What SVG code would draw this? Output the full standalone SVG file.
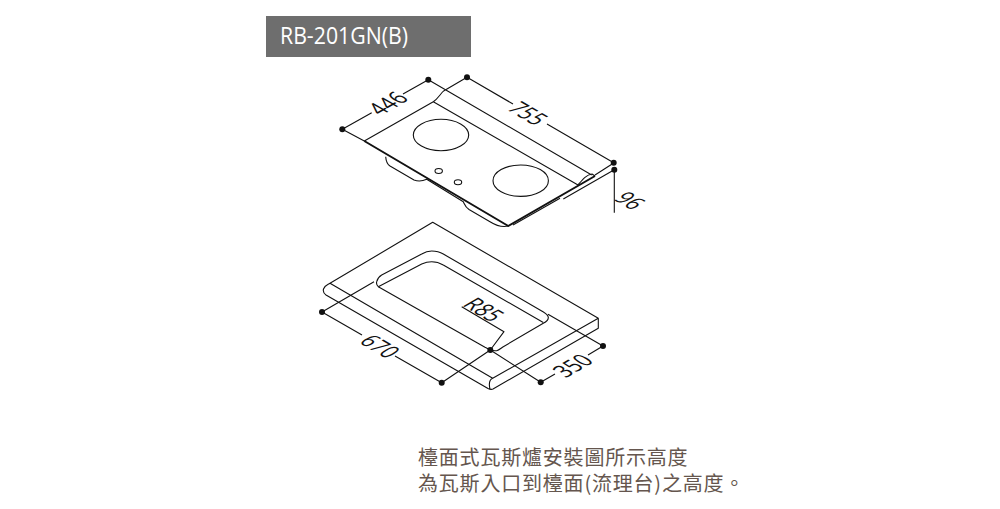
<svg xmlns="http://www.w3.org/2000/svg" width="1000" height="509" viewBox="0 0 1000 509">
<style>
.l{fill:none;stroke:#111;stroke-width:1.1;stroke-linejoin:round}
.t{fill:none;stroke:#111;stroke-width:2;stroke-linejoin:round}
.d{fill:#111}
.n{font-family:"Open Sans","Noto Sans",sans-serif;font-size:19.500px;fill:#111;text-anchor:middle;dominant-baseline:central}
.c{font-family:"Noto Sans CJK TC","Noto Sans CJK SC",sans-serif;font-size:20px;letter-spacing:.8px;fill:#65564e}
</style>
<rect width="1000" height="509" fill="#fff"/>
<g id="title"><rect x="266" y="16" width="205" height="41" fill="#6e6e6e"/><text x="280" y="44" font-family="'Open Sans','Noto Sans',sans-serif" font-size="23" fill="#fff" textLength="128" lengthAdjust="spacingAndGlyphs">RB-201GN(B)</text></g>
<g id="cooktop">
<path class="l" d="M364.300 141L433.300 101.700C438 99 440 94 444 90.700M433.300 101.700L578 185C583 179 586 175 592 174L595 176"/>
<path class="t" d="M364.300 141L508.300 226L595 176"/>
<path class="l" d="M385.700 156.700C386 161 387 164 390 166L414 180C419 182 423 181 426.700 179.300L463.300 201.700C465 205 465 207 469 209.500L490 221.700C496 225.500 502 227.500 508.300 226"/>
<path class="l" d="M513 225L560 198.300"/>
<ellipse class="l" cx="441" cy="135" rx="27.700" ry="15.700"/>
<ellipse class="l" cx="520.700" cy="180.700" rx="27.700" ry="15.700"/>
<ellipse class="l" cx="438.700" cy="171" rx="3.700" ry="2.500"/>
<ellipse class="l" cx="458" cy="182.300" rx="3.700" ry="2.500"/>
</g>
<g id="countertop">
<path class="l" d="M432.700 222.300L598.300 318.300V328.300L493 389C491 390 490 389.500 488 388.500L326 295C323 293 323 291 323.500 289C325 285 327 285 330 283.300ZM330 283.300L492.700 378.300C489 380 489 385 490 389M492.700 378.300L598.300 318.300"/>
<path class="l" d="M378.300 286.700C376.500 285 376.200 283.500 376.700 281.700C377.500 278.500 379 276.500 381.700 275L421.700 254C425 252 428 251 431.700 251C436 251 440 252 443.300 254L541.700 311C545 313 548 314.500 548.300 317.300C548.500 320 546 322 543.300 323.300L503.300 346.700C500 349 498.500 350.300 496.700 350.700C494 351 492 350.500 490.300 350C488.500 349 487 348.300 485 347.300Z"/>
<path class="l" d="M378.300 286.700L421.700 264C425 262.500 428 261.700 431.700 261.700C436 261.700 440 263 443.300 265L543.300 322.500"/>
<path class="l" d="M461.700 306.700L504 331.700L490.300 350"/>
</g>
<g id="connectors">
<path class="l" d="M342.300 129.300L371.700 112.700M403 94L428.300 79.700M342.300 129.300L364.300 141M428.300 79.700L591.700 175M467 77.300L444 90.700M467 77.300L513 104M547 124L613.700 162.700M595 175L613.700 163M563.300 199L614.300 169.700V212.700"/>
<path class="l" d="M322 312L374 281.700M322 312L362 335M395 356L441.700 382.700L490.300 350M490.300 350L540.700 382.300L555 374M588 355L603 346L548 314.300"/>
<g class="d"><circle cx="428.300" cy="79.700" r="3"/><circle cx="467" cy="77.300" r="3"/><circle cx="342.300" cy="129.300" r="3"/><circle cx="613.700" cy="162.700" r="3"/><circle cx="614.300" cy="169.700" r="3"/><circle cx="322" cy="312" r="3"/><circle cx="441.700" cy="382.700" r="3"/><circle cx="490.300" cy="350" r="3"/><circle cx="540.700" cy="382.300" r="3"/><circle cx="603" cy="346" r="3"/></g>
</g>
<g id="labels">
<text class="n" transform="matrix(.866 -.5 1.08 .62 386.700 102.700)">446</text>
<text class="n" transform="matrix(.866 .5 -1.08 .62 529 112.700)">755</text>
<text class="n" transform="matrix(.866 .5 -1.08 .62 631 200)">96</text>
<text class="n" transform="matrix(.866 .5 -1.08 .62 485 309)">R85</text>
<text class="n" transform="matrix(.866 .5 -1.08 .62 381 345.700)">670</text>
<text class="n" transform="matrix(.866 -.5 1.08 .62 571.700 365)">350</text>
<text class="c" x="418" y="465">檯面式瓦斯爐安裝圖所示高度</text>
<text class="c" x="418" y="491">為瓦斯入口到檯面(流理台)之高度。</text>
</g>
</svg>
